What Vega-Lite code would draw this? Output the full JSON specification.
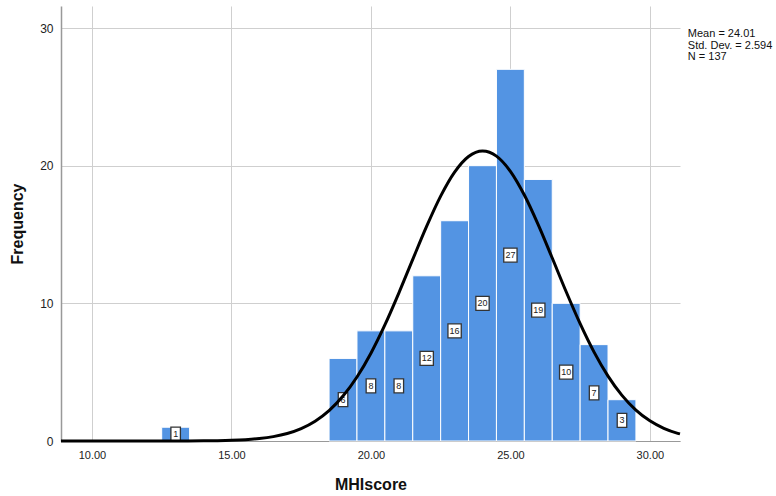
{
  "$schema": "https://vega.github.io/schema/vega-lite/v6.json",
  "width": 619,
  "height": 435,
  "autosize": {"type": "none"},
  "padding": {"left": 61, "top": 6, "right": 96, "bottom": 55},
  "background": "white",
  "config": {
    "font": "Liberation Sans",
    "view": {"stroke": null}
  },
  "datasets": {
    "bins": [
      {"x0": 12.5, "x1": 13.5, "mid": 13, "count": 1},
      {"x0": 18.5, "x1": 19.5, "mid": 19, "count": 6},
      {"x0": 19.5, "x1": 20.5, "mid": 20, "count": 8},
      {"x0": 20.5, "x1": 21.5, "mid": 21, "count": 8},
      {"x0": 21.5, "x1": 22.5, "mid": 22, "count": 12},
      {"x0": 22.5, "x1": 23.5, "mid": 23, "count": 16},
      {"x0": 23.5, "x1": 24.5, "mid": 24, "count": 20},
      {"x0": 24.5, "x1": 25.5, "mid": 25, "count": 27},
      {"x0": 25.5, "x1": 26.5, "mid": 26, "count": 19},
      {"x0": 26.5, "x1": 27.5, "mid": 27, "count": 10},
      {"x0": 27.5, "x1": 28.5, "mid": 28, "count": 7},
      {"x0": 28.5, "x1": 29.5, "mid": 29, "count": 3}
    ],
    "curve": [
      {"x": 8.89, "y": 0},
      {"x": 10, "y": 0.00001},
      {"x": 11, "y": 0.00007},
      {"x": 12, "y": 0.00047},
      {"x": 13, "y": 0.0026},
      {"x": 14, "y": 0.0123},
      {"x": 14.5, "y": 0.0254},
      {"x": 15, "y": 0.0506},
      {"x": 15.5, "y": 0.097},
      {"x": 16, "y": 0.179},
      {"x": 16.5, "y": 0.319},
      {"x": 17, "y": 0.547},
      {"x": 17.5, "y": 0.904},
      {"x": 18, "y": 1.439},
      {"x": 18.5, "y": 2.208},
      {"x": 19, "y": 3.264},
      {"x": 19.5, "y": 4.648},
      {"x": 20, "y": 6.378},
      {"x": 20.5, "y": 8.434},
      {"x": 21, "y": 10.748},
      {"x": 21.5, "y": 13.194},
      {"x": 22, "y": 15.607},
      {"x": 22.5, "y": 17.787},
      {"x": 23, "y": 19.532},
      {"x": 23.5, "y": 20.668},
      {"x": 24, "y": 21.07},
      {"x": 24.5, "y": 20.697},
      {"x": 25, "y": 19.591},
      {"x": 25.5, "y": 17.866},
      {"x": 26, "y": 15.699},
      {"x": 26.5, "y": 13.291},
      {"x": 27, "y": 10.843},
      {"x": 27.5, "y": 8.523},
      {"x": 28, "y": 6.456},
      {"x": 28.5, "y": 4.711},
      {"x": 29, "y": 3.312},
      {"x": 29.5, "y": 2.244},
      {"x": 30, "y": 1.465},
      {"x": 30.5, "y": 0.921},
      {"x": 31, "y": 0.558},
      {"x": 31.08, "y": 0.514}
    ]
  },
  "layer": [
    {
      "data": {"name": "bins"},
      "mark": {"type": "rect", "color": "#5394E3", "stroke": "white", "strokeWidth": 1},
      "encoding": {
        "x": {
          "field": "x0", "type": "quantitative",
          "scale": {"domain": [8.89, 31.08], "nice": false, "zero": false},
          "axis": {
            "values": [10, 15, 20, 25, 30], "format": ".2f", "title": "MHIscore",
            "grid": true, "gridColor": "#cfcfcf", "ticks": false,
            "domainColor": "#999999", "labelFontSize": 11, "labelColor": "#222222",
            "labelPadding": 8, "titleFontSize": 16, "titleFontWeight": "bold",
            "titleColor": "#111111", "titlePadding": 16
          }
        },
        "x2": {"field": "x1"},
        "y": {
          "field": "count", "type": "quantitative",
          "scale": {"domain": [0, 31.6], "nice": false},
          "axis": {
            "values": [0, 10, 20, 30], "title": "Frequency",
            "grid": true, "gridColor": "#cfcfcf", "ticks": false,
            "domainColor": "#999999", "domainWidth": 1.5, "labelFontSize": 12, "labelColor": "#222222",
            "labelPadding": 8, "titleFontSize": 16, "titleFontWeight": "bold",
            "titleColor": "#111111", "titlePadding": 14
          }
        },
        "y2": {"datum": 0}
      }
    },
    {
      "data": {"name": "bins"},
      "transform": [{"filter": "datum.count < 10"}],
      "mark": {"type": "point", "shape": "M-0.68,-1H0.68V1H-0.68Z", "filled": true, "fill": "white", "stroke": "#333333", "strokeWidth": 1.3, "opacity": 1, "size": 196},
      "encoding": {
        "x": {"field": "mid", "type": "quantitative"},
        "y": {"field": "count", "type": "quantitative", "scale": {"domain": [0, 63.2], "nice": false}, "axis": null}
      }
    },
    {
      "data": {"name": "bins"},
      "transform": [{"filter": "datum.count >= 10"}],
      "mark": {"type": "point", "shape": "M-0.95,-1H0.95V1H-0.95Z", "filled": true, "fill": "white", "stroke": "#333333", "strokeWidth": 1.3, "opacity": 1, "size": 196},
      "encoding": {
        "x": {"field": "mid", "type": "quantitative"},
        "y": {"field": "count", "type": "quantitative", "scale": {"domain": [0, 63.2], "nice": false}, "axis": null}
      }
    },
    {
      "data": {"name": "bins"},
      "mark": {"type": "text", "fontSize": 9, "color": "#222222", "baseline": "middle", "align": "center"},
      "encoding": {
        "x": {"field": "mid", "type": "quantitative"},
        "y": {"field": "count", "type": "quantitative", "scale": {"domain": [0, 63.2], "nice": false}, "axis": null},
        "text": {"field": "count", "type": "quantitative"}
      }
    },
    {
      "data": {"name": "curve"},
      "mark": {"type": "line", "color": "black", "strokeWidth": 3, "interpolate": "monotone"},
      "encoding": {
        "x": {"field": "x", "type": "quantitative"},
        "y": {"field": "y", "type": "quantitative", "scale": {"domain": [0, 31.6], "nice": false}, "axis": null}
      }
    },
    {
      "data": {"values": [{"label": "stats"}]},
      "mark": {"type": "text", "text": ["Mean = 24.01", "Std. Dev. = 2.594", "N = 137"], "fontSize": 11, "lineHeight": 11.5, "align": "left", "baseline": "top", "color": "#111111"},
      "encoding": {
        "x": {"datum": 31.36},
        "y": {"datum": 30.0, "scale": {"domain": [0, 31.6], "nice": false}, "axis": null}
      }
    }
  ],
  "resolve": {"scale": {"x": "shared", "y": "independent"}}
}
